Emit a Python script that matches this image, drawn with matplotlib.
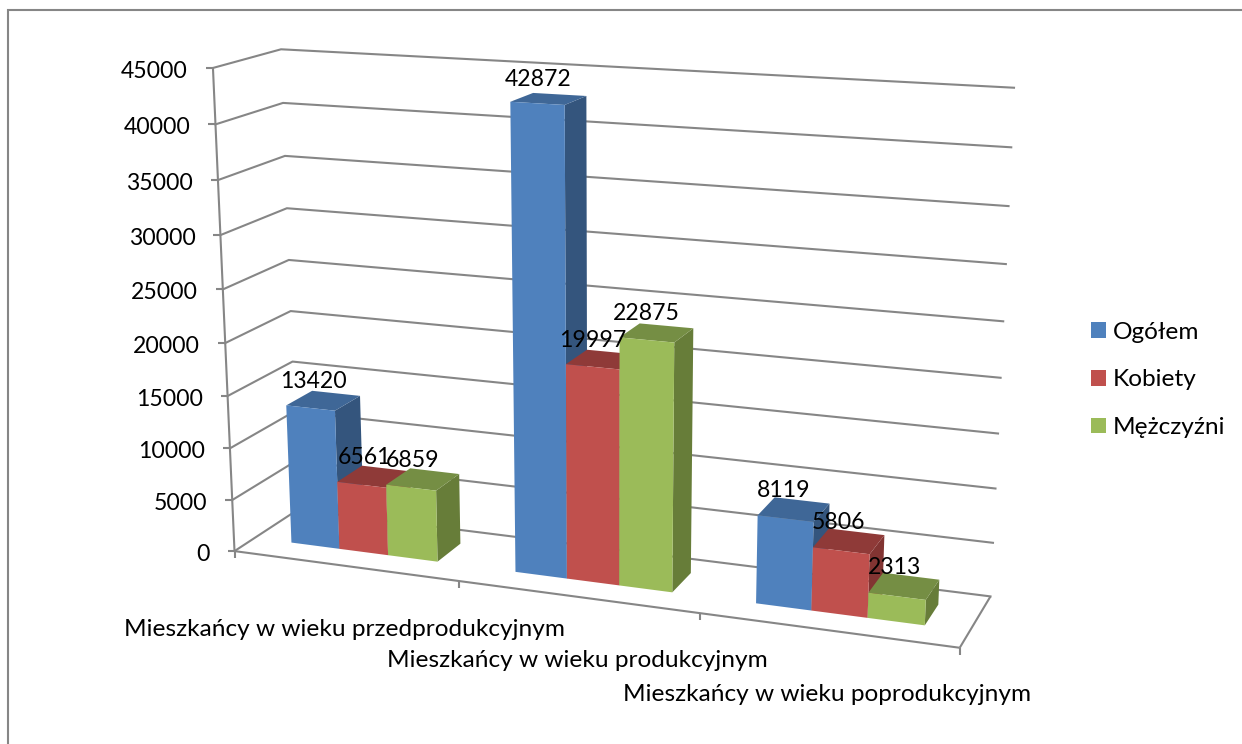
import matplotlib
matplotlib.use("Agg")
import matplotlib.pyplot as plt
from matplotlib.patches import Patch, Polygon
import numpy as np

plt.rcParams['font.family'] = ['Lato', 'DejaVu Sans']

# --- DATA ---
categories = ['Mieszkańcy w wieku przedprodukcyjnym',
              'Mieszkańcy w wieku produkcyjnym',
              'Mieszkańcy w wieku poprodukcyjnym']
series = ['Ogółem', 'Kobiety', 'Mężczyźni']
ogolem = [13420, 42872, 8119]
kobiety = [6561, 19997, 5806]
mezczyzni = [6859, 22875, 2313]
yticks = [0, 5000, 10000, 15000, 20000, 25000, 30000, 35000, 40000, 45000]

ymax = yticks[-1]
colors = ['#4F81BD', '#C0504D', '#9BBB59']
top_colors = ['#3F6797', '#8F3A38', '#758E44']
side_colors = ['#34557D', '#823432', '#677D39']
grid = '#868686'

# --- 3D VIEW ---
# fit a camera matrix to where the box corners sit on the canvas
# world: x = category position 0-3, y = depth 0-1, z = value / ymax
world = np.array([[0, 0, 0], [0, 0, 1], [0, 1, 1], [0, 1, 0], [3, 1, 1], [3, 1, 0],
                  [3, 0, 0], [1, 0, 0], [2, 0, 0]], dtype=float)
canvas = np.array([[235, 551], [213, 68], [281, 49], [298, 510], [1014, 88], [990.5, 596],
                   [960, 647], [458, 580], [700, 615]], dtype=float)
rows, rhs = [], []
for (a, b, c), (u, v) in zip(world, canvas):
    rows.append([a, b, c, 1, 0, 0, 0, 0, -u * a, -u * b, -u * c])
    rows.append([0, 0, 0, 0, a, b, c, 1, -v * a, -v * b, -v * c])
    rhs += [u, v]
cam = np.append(np.linalg.lstsq(np.array(rows), np.array(rhs), rcond=None)[0], 1).reshape(3, 4)


def proj(x, y, value):
    p = cam @ np.array([x, y, value / ymax, 1.0])
    return p[0] / p[2], p[1] / p[2]


fig = plt.figure(figsize=(12.42, 7.44), dpi=100)
ax = fig.add_axes([0, 0, 1, 1])
ax.set_xlim(0, 1242)
ax.set_ylim(744, 0)
ax.axis('off')

# chart frame, only left and top show in the reference
ax.plot([8, 8, 1242], [744, 10, 10], color=grid, lw=1.5, solid_joinstyle='miter')


def line(a, b):
    ax.plot([a[0], b[0]], [a[1], b[1]], color=grid, lw=1.5, solid_capstyle='butt', zorder=1)


# walls and gridlines
for t in yticks:
    fl, bl, br = proj(0, 0, t), proj(0, 1, t), proj(3, 1, t)
    ax.plot([fl[0], bl[0], br[0]], [fl[1], bl[1], br[1]], color=grid, lw=1.5, zorder=1)
    line((fl[0] - 7, fl[1]), fl)
    ax.text(fl[0] - 25, fl[1] + 3.5, str(t), ha='right', va='center', fontsize=16.6, color='black')
line(proj(0, 0, 0), proj(0, 0, ymax))
line(proj(0, 0, 0), proj(3, 0, 0))
line(proj(3, 0, 0), proj(3, 1, 0))
for i in range(4):
    p = proj(i, 0, 0)
    line(p, (p[0], p[1] + 7))

# bars, left to right so right faces hide correctly
x_from, x_to = 0.170, 0.830
y_from, y_to = 0.31, 0.72
values = [ogolem, kobiety, mezczyzni]
for c in range(len(categories)):
    width = (x_to - x_from) / 3
    for s in range(3):
        v = values[s][c]
        x0, x1 = c + x_from + s * width, c + x_from + (s + 1) * width
        z = 3 * c + s
        ax.add_patch(Polygon([proj(x1, y_from, 0), proj(x1, y_to, 0), proj(x1, y_to, v), proj(x1, y_from, v)],
                             fc=side_colors[s], ec='none', zorder=2 + z))
        ax.add_patch(Polygon([proj(x0, y_from, v), proj(x1, y_from, v), proj(x1, y_to, v), proj(x0, y_to, v)],
                             fc=top_colors[s], ec='none', zorder=2 + z))
        ax.add_patch(Polygon([proj(x0, y_from, 0), proj(x1, y_from, 0), proj(x1, y_from, v), proj(x0, y_from, v)],
                             fc=colors[s], ec='none', zorder=2 + z))
        px, py = proj((x0 + x1) / 2, (y_from + y_to) / 2, v)
        ax.text(px - 10, py - 19, str(v), ha='center', va='center', fontsize=16.6, color='black', zorder=50)

for c, name in enumerate(categories):
    px, py = proj(c + 0.5, 0, 0)
    ax.text(px, py + 64, name, ha='center', va='center', fontsize=17.6, color='black')

handles = [Patch(fc=col, ec='none', label=name) for col, name in zip(colors, series)]
ax.legend(handles=handles, loc='center left', bbox_to_anchor=(1091, 380), bbox_transform=ax.transData,
          frameon=False, fontsize=17.6, handlelength=0.62, handleheight=0.62, handletextpad=0.27,
          labelspacing=1.09, borderpad=0, borderaxespad=0)

fig.savefig('out.png', dpi=100)
